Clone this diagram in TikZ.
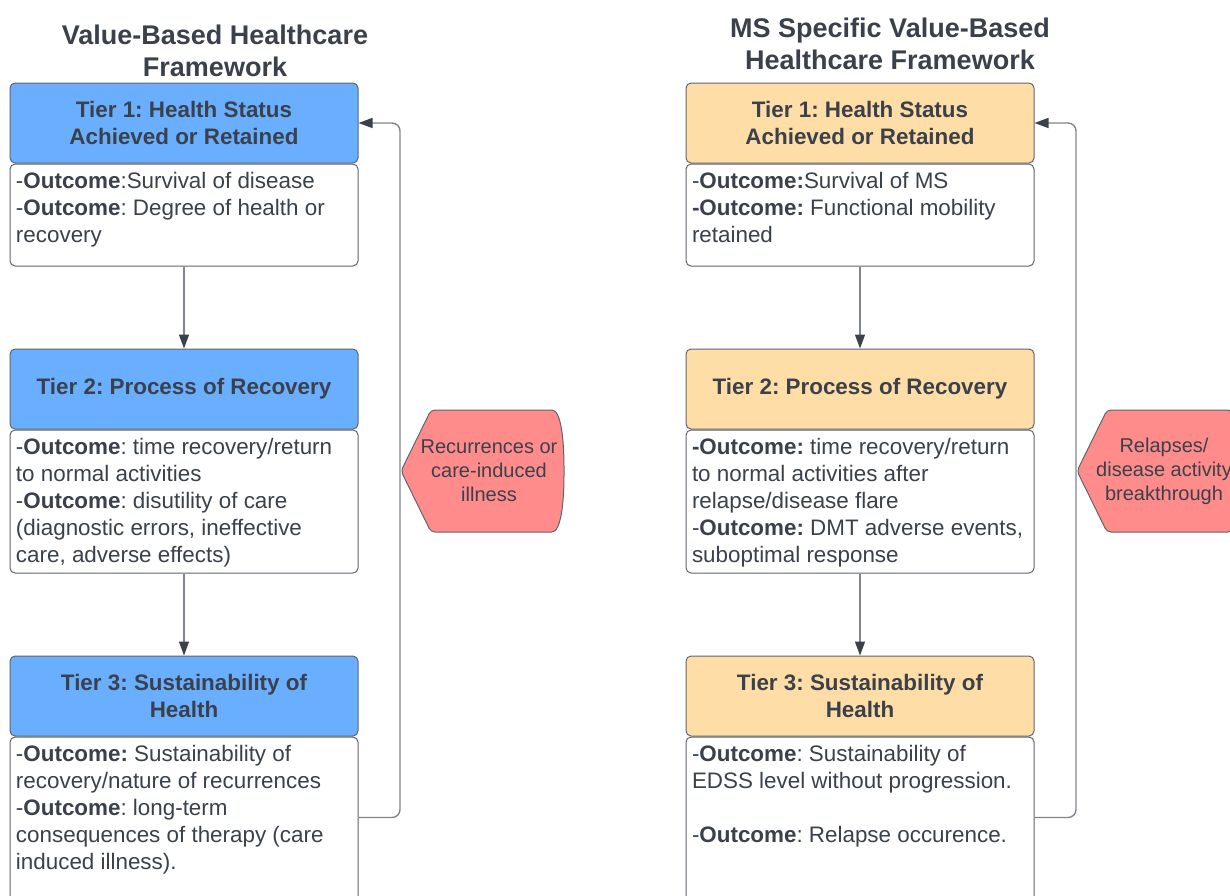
\documentclass[tikz,border=0pt]{standalone}
\usepackage{fontspec}
\setmainfont{Liberation Sans}
\usetikzlibrary{positioning,arrows.meta}
\definecolor{ink}{HTML}{3A414A}
\definecolor{edge}{HTML}{5E656E}
\definecolor{wire}{HTML}{80858C}
\definecolor{tierblue}{HTML}{6AAEFF}
\definecolor{tierorange}{HTML}{FFDDA6}
\definecolor{alertred}{HTML}{FF8B8B}
\frenchspacing
\newcommand{\oc}{\textbf{Outcome}}
\newcommand{\bodytext}[2]{\parbox[t][#1][t]{168pt}{\raggedright\vspace{1pt}#2}}

\begin{document}
\begin{tikzpicture}[x=0.5pt,y=-0.5pt,
  title/.style={font=\fontsize{13.5}{16}\selectfont\bfseries, text=ink, align=center},
  head/.style={draw=edge, line width=0.5pt, rounded corners=2.5pt, minimum width=174pt, minimum height=40pt, align=center, text=ink, font=\fontsize{11.2}{13.5}\selectfont\bfseries},
  body/.style={draw=edge, line width=0.5pt, fill=white, rounded corners=2.5pt, minimum width=174pt, inner sep=3pt, text=ink, font=\fontsize{11.2}{13.5}\selectfont, below=0pt of #1},
  link/.style={-{Triangle[length=7pt,width=5pt,color=ink]}, draw=wire, line width=0.7pt},
  feedback/.style={link, rounded corners=4pt},
  flag/.style={draw=edge, fill=alertred, line width=0.5pt, rounded corners=2pt},
  flagtext/.style={text=ink, align=center, font=\fontsize{10}{12}\selectfont}]
  \useasboundingbox (0,0) rectangle (1230,895);
  \clip (0,0) rectangle (1230,895);
  \fill[white] (0,0) rectangle (1230,895);

  \node[title] (tl) at (215,51) {Value-Based Healthcare\\Framework};
  \node[title] (tr) at (890,44) {MS Specific Value-Based\\Healthcare Framework};

  % general framework
  \node[head, fill=tierblue] (h1) at (184,123) {Tier 1: Health Status\\Achieved or Retained};
  \node[body=h1] (b1) {\bodytext{45pt}{-\oc:Survival of disease\\-\oc: Degree of health or\\recovery}};
  \node[head, fill=tierblue] (h2) at (184,389) {Tier 2: Process of Recovery};
  \node[body=h2] (b2) {\bodytext{65.5pt}{-\oc: time recovery/return\\to normal activities\\-\oc: disutility of care\\(diagnostic errors, ineffective\\care, adverse effects)}};
  \node[head, fill=tierblue] (h3) at (184,696) {Tier 3: Sustainability of\\Health};
  \node[body=h3] (b3) {\bodytext{110pt}{-\textbf{Outcome:} Sustainability of\\recovery/nature of recurrences\\-\oc: long-term\\consequences of therapy (care\\induced illness).}};
  \draw[link] (b1.south) -- (h2.north);
  \draw[link] (b2.south) -- (h3.north);
  \draw[feedback] (b3.north east) ++(0,81) -| (400,123) -- (h1.east);
  \draw[flag] (401,471) -- (431,410) -- (548,410) .. controls (561,410) and (564,440) .. (564,471)
    .. controls (564,502) and (561,532) .. (548,532) -- (431,532) -- cycle;
  \node[flagtext] (fl) at (489,471) {Recurrences or\\care-induced\\illness};

  % MS specific framework
  \node[head, fill=tierorange] (m1) at (860,123) {Tier 1: Health Status\\Achieved or Retained};
  \node[body=m1] (c1) {\bodytext{45pt}{-\textbf{Outcome:}Survival of MS\\\textbf{-Outcome:} Functional mobility\\retained}};
  \node[head, fill=tierorange] (m2) at (860,389) {Tier 2: Process of Recovery};
  \node[body=m2] (c2) {\bodytext{65.5pt}{\textbf{-Outcome:} time recovery/return\\to normal activities after\\relapse/disease flare\\-\textbf{Outcome:} DMT adverse events,\\suboptimal response}};
  \node[head, fill=tierorange] (m3) at (860,696) {Tier 3: Sustainability of\\Health};
  \node[body=m3] (c3) {\bodytext{110pt}{-\oc: Sustainability of\\EDSS level without progression.\\\mbox{}\\-\oc: Relapse occurence.}};
  \draw[link] (c1.south) -- (m2.north);
  \draw[link] (c2.south) -- (m3.north);
  \draw[feedback] (c3.north east) ++(0,81) -| (1076,123) -- (m1.east);
  \draw[flag] (1077,471) -- (1107,410) -- (1224,410) .. controls (1237,410) and (1240,440) .. (1240,471)
    .. controls (1240,502) and (1237,532) .. (1224,532) -- (1107,532) -- cycle;
  \node[flagtext] (fr) at (1164,471) {Relapses/\\disease activity\\breakthrough};
\end{tikzpicture}
\end{document}
